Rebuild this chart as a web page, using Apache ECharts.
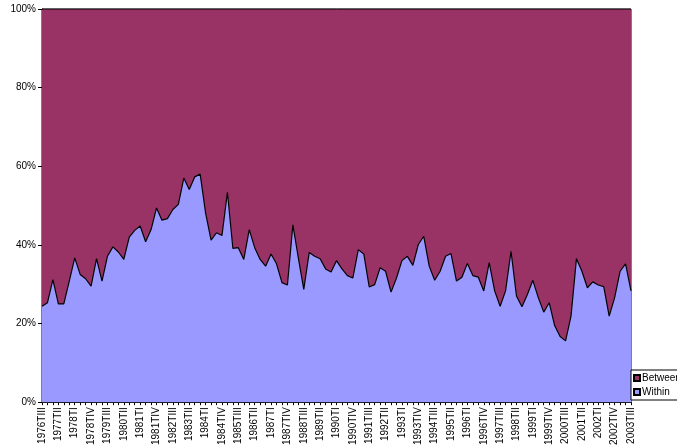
<!DOCTYPE html>
<html>
<head>
<meta charset="utf-8">
<script src="https://cdn.jsdelivr.net/npm/echarts@6/dist/echarts.min.js"></script>
<style>
html,body{margin:0;padding:0;background:#fff;}
#chart{width:677px;height:448px;}
</style>
</head>
<body>
<div id="chart"></div>
<script>
// Quarters 1976 TIII .. 2003 TIII
var startYear = 1976, startQuarter = 3, endYear = 2003, endQuarter = 3;
var romans = ['TI','TII','TIII','TIV'];
var categories = [];
(function(){
  var y = startYear, q = startQuarter;
  while (y < endYear || (y === endYear && q <= endQuarter)) {
    categories.push(y + romans[q-1]);
    q++; if (q > 4) { q = 1; y++; }
  }
})();

// Share "Within" (%)
var withinValues = [
  24.4,25.3,31.2,25.0,25.0,30.8,36.7,32.5,31.4,29.5,
  36.5,30.8,37.1,39.5,38.2,36.3,42.0,43.7,44.8,40.8,
  43.9,49.4,46.3,46.7,49.0,50.3,57.0,54.1,57.3,58.0,
  48.1,41.2,43.1,42.4,53.4,39.1,39.3,36.3,43.9,39.3,
  36.3,34.6,37.7,35.2,30.4,29.8,45.1,36.7,28.7,38.1,
  37.1,36.5,33.9,33.1,36.0,33.9,32.2,31.6,38.8,37.7,
  29.3,29.9,34.2,33.3,28.0,31.6,36.0,37.1,34.8,40.1,
  42.2,34.6,31.0,33.3,37.1,37.8,30.8,31.8,35.3,32.2,
  31.8,28.3,35.5,28.3,24.4,28.3,38.4,27.0,24.3,27.4,
  31.0,26.6,22.9,25.3,19.5,16.7,15.6,21.9,36.5,33.3,
  29.1,30.6,29.8,29.4,21.9,26.6,33.3,35.2,28.3
];
// Share "Between" is the complement in this 100% stacked chart
var betweenValues = withinValues.map(function(v){ return +(100 - v).toFixed(1); });

var yTicks = [0, 20, 40, 60, 80, 100];

var chart = echarts.init(document.getElementById('chart'), null, {renderer:'canvas'});
var font = 'Liberation Sans, Arial, sans-serif';
chart.setOption({
  animation: false,
  backgroundColor: '#ffffff',
  grid: {
    left: 42, right: 46, top: 9, bottom: 45,
    show: true, borderColor: '#000', borderWidth: 1, backgroundColor: 'transparent'
  },
  legend: {
    data: ['Between','Within'],
    orient: 'vertical',
    left: 631, top: 370,
    icon: 'rect',
    itemWidth: 6, itemHeight: 6, itemGap: 4,
    padding: [3, 20, 3, 2],
    borderColor: '#000', borderWidth: 1,
    backgroundColor: '#fff',
    textStyle: { fontFamily: font, fontSize: 10, color: '#000', padding: [0,0,0,-3] }
  },
  xAxis: {
    type: 'category',
    data: categories,
    boundaryGap: false,
    axisLine: { lineStyle: { color: '#000', width: 1 } },
    axisTick: { show: true, interval: 0, length: 3, inside: false, lineStyle: { color: '#000' } },
    axisLabel: {
      interval: 2, rotate: 90, fontFamily: font, fontSize: 10, color: '#000', margin: 5
    },
    splitLine: { show: false }
  },
  yAxis: {
    type: 'value',
    min: yTicks[0], max: yTicks[yTicks.length-1], interval: 20,
    axisLine: { show: true, lineStyle: { color: '#000', width: 1 } },
    axisTick: { show: true, length: 4, lineStyle: { color: '#000' } },
    axisLabel: { formatter: '{value}%', fontFamily: font, fontSize: 10, color: '#000', margin: 6 },
    splitLine: { show: false }
  },
  series: [
    {
      name: 'Within', type: 'line', stack: 'total', data: withinValues,
      showSymbol: false, symbol: 'none',
      lineStyle: { color: '#000', width: 1.2 },
      itemStyle: { color: '#9999FF', borderColor: '#000', borderWidth: 1 },
      areaStyle: { color: '#9999FF', opacity: 1 },
      z: 3
    },
    {
      name: 'Between', type: 'line', stack: 'total', data: betweenValues,
      showSymbol: false, symbol: 'none',
      lineStyle: { color: '#000', width: 1.2 },
      itemStyle: { color: '#993366', borderColor: '#000', borderWidth: 1 },
      areaStyle: { color: '#993366', opacity: 1 },
      z: 2
    }
  ]
});
</script>
</body>
</html>
